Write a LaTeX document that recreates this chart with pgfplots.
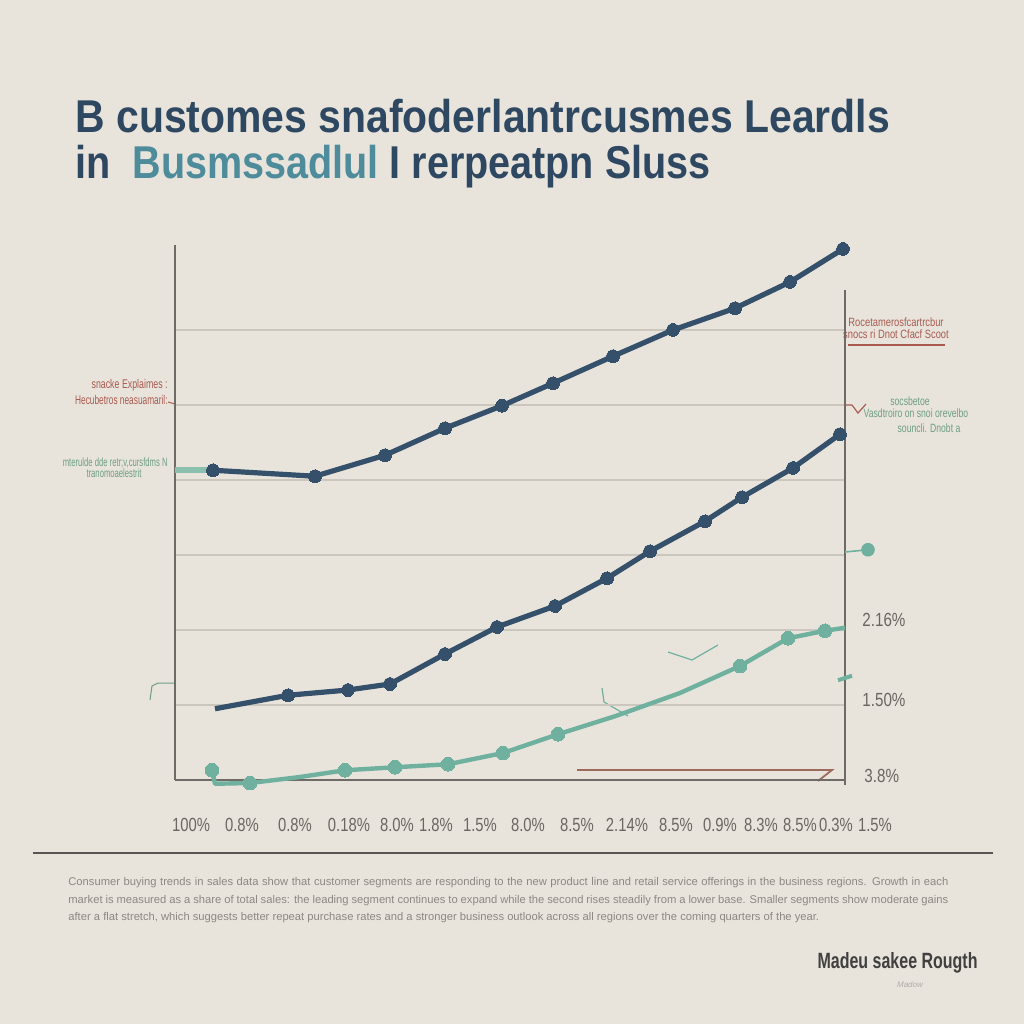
\documentclass[border=0pt]{standalone}
\usepackage{fontspec}
\setmainfont{Liberation Sans}
\usepackage{pgfplots}
\pgfplotsset{compat=1.18}
\definecolor{bg}{HTML}{E8E4DC}
\definecolor{navy}{HTML}{35506A}
\definecolor{tealc}{HTML}{6FB19E}
\definecolor{tealL}{HTML}{8CC0AE}
\definecolor{titlec}{HTML}{2F4861}
\definecolor{titleb}{HTML}{4E8B9B}
\definecolor{axisgray}{HTML}{6E6A66}
\definecolor{gridc}{HTML}{CBC7BF}
\definecolor{lblgray}{HTML}{6A6661}
\definecolor{redc}{HTML}{A85A50}
\definecolor{greenc}{HTML}{6E9E84}
\definecolor{brownc}{HTML}{9E6A5C}
\definecolor{txtgray}{HTML}{8C8882}
\begin{document}
\begin{tikzpicture}
\begin{scope}[x=0.5pt,y=-0.5pt]
\fill[bg] (0,0) rectangle (1024,1024);
% title
\node[anchor=base west, inner sep=0, text=titlec] at (75,132) {\scalebox{0.89}[1]{\fontsize{23}{26}\selectfont\bfseries B customes snafoderlantrcusmes Leardls}};
\node[anchor=base west, inner sep=0, text=titlec] at (75,178) {\scalebox{0.86}[1]{\fontsize{23}{26}\selectfont\bfseries in\ \ \textcolor{titleb}{Busmssadlul} I rerpeatpn Sluss}};
% left annotations
\node[anchor=east, inner sep=0, text=redc] at (168,385) {\scalebox{0.7}[1]{\fontsize{6.3}{7}\selectfont snacke Explaimes :}};
\node[anchor=east, inner sep=0, text=redc] at (168,400) {\scalebox{0.66}[1]{\fontsize{6.3}{7}\selectfont Hecubetros neasuamaril:}};
\draw[redc, line width=0.5pt] (168,402) -- (175,404);
\node[anchor=east, inner sep=0, text=greenc] at (168,463) {\scalebox{0.64}[1]{\fontsize{6}{7}\selectfont mterulde dde retr;v,cursfdms N}};
\node[anchor=east, inner sep=0, text=greenc] at (142,473) {\scalebox{0.64}[1]{\fontsize{6}{7}\selectfont tranomoaelestrit}};
\draw[greenc, line width=0.5pt] (150,700) -- (152,686) -- (158,683) -- (175,683);
% right annotations
\node[inner sep=0, text=redc] at (896,322) {\scalebox{0.78}[1]{\fontsize{6}{7}\selectfont Rocetamerosfcartrcbur}};
\node[inner sep=0, text=redc] at (896,334) {\scalebox{0.78}[1]{\fontsize{6}{7}\selectfont snocs ri Dnot Cfacf Scoot}};
\draw[redc, line width=0.7pt] (848,345) -- (945,345);
\node[inner sep=0, text=greenc] at (910,401) {\scalebox{0.72}[1]{\fontsize{6}{7}\selectfont socsbetoe}};
\node[inner sep=0, text=greenc] at (916,413) {\scalebox{0.72}[1]{\fontsize{6}{7}\selectfont Vasdtroiro on snoi orevelbo}};
\node[inner sep=0, text=greenc] at (929,428) {\scalebox{0.72}[1]{\fontsize{6}{7}\selectfont souncli. Dnobt a}};
\draw[redc, line width=0.6pt] (843,405) -- (852,405) -- (858,413) -- (866,404);
% right value labels
\node[anchor=west, inner sep=0, text=lblgray] at (862,620) {\scalebox{0.8}[1]{\fontsize{9.5}{11}\selectfont 2.16\%}};
\node[anchor=west, inner sep=0, text=lblgray] at (862,700) {\scalebox{0.8}[1]{\fontsize{9.5}{11}\selectfont 1.50\%}};
\node[anchor=west, inner sep=0, text=lblgray] at (864,776) {\scalebox{0.8}[1]{\fontsize{9.5}{11}\selectfont 3.8\%}};
% bottom tick labels
\foreach \xx/\tt in {191/100\%, 242/0.8\%, 295/0.8\%, 349/0.18\%, 397/8.0\%, 436/1.8\%, 480/1.5\%, 528/8.0\%, 577/8.5\%, 627/2.14\%, 676/8.5\%, 720/0.9\%, 761/8.3\%, 800/8.5\%, 836/0.3\%, 875/1.5\%}{
  \node[inner sep=0, text=lblgray] at (\xx,825) {\scalebox{0.78}[1]{\fontsize{9.5}{11}\selectfont \tt}};
}
% rule
\draw[axisgray!80!black, line width=0.8pt] (33,853) -- (993,853);
% paragraph
\node[anchor=north west, inner sep=0, text width=440pt, align=justify, text=txtgray, font=\fontsize{5.6}{8.8}\selectfont] at (68,877) {Consumer buying trends in sales data show that customer segments are responding to the new product line and retail service offerings in the business regions. Growth in each market is measured as a share of total sales: the leading segment continues to expand while the second rises steadily from a lower base. Smaller segments show moderate gains after a flat stretch, which suggests better repeat purchase rates and a stronger business outlook across all regions over the coming quarters of the year.};
% signature
\node[anchor=base east, inner sep=0, text=black!75] at (978,968) {\resizebox{80pt}{8pt}{\bfseries Madeu sakee Rougth}};
\node[inner sep=0, text=txtgray!70, font=\fontsize{4}{5}\selectfont\itshape] at (910,985) {Madow};
% sketch strokes
\draw[tealc, line width=0.6pt] (602,688) -- (604,702) -- (628,716);
\draw[tealc, line width=0.6pt] (668,652) -- (692,660) -- (718,645);
\draw[brownc, line width=0.9pt] (577,770) -- (832,770) -- (818,781);
\end{scope}
\begin{axis}[at={(87.5pt,-390pt)}, anchor=south west, scale only axis,
  width=335pt, height=267.5pt,
  xmin=175, xmax=845, ymin=0, ymax=7.133,
  axis x line=bottom, axis y line=left,
  axis line style={draw=axisgray, line width=0.8pt, -},
  xtick=\empty, ytick={1,2,3,4,5,6}, yticklabels={,,,,,}, major tick length=0pt,
  ymajorgrids, grid style={gridc, line width=0.7pt},
  clip=false]
\draw[axisgray, line width=0.8pt] (axis cs:845,6.53) -- (axis cs:845,-0.07);
% lead-in of top series
\addplot[tealL, line width=3pt, mark=none] coordinates {(175,4.13) (213,4.13)};
% series 1
\addplot[navy, line width=2.6pt, line join=round, mark=*, mark size=3.2pt, mark options={fill=navy, draw=navy, line width=0pt}]
 coordinates {(213,4.13) (315,4.05) (385,4.33) (445,4.69) (502,4.99) (553,5.29) (613,5.65) (673,6.00) (735,6.29) (790,6.64) (843,7.08)};
% series 2
\addplot[navy, line width=2.6pt, line join=round, mark=*, mark size=3.2pt, mark indices={2,3,4,5,6,7,8,9,10,11,12,13}, mark options={fill=navy, draw=navy, line width=0pt}]
 coordinates {(215,0.95) (288,1.13) (348,1.20) (390,1.28) (445,1.68) (497,2.04) (555,2.32) (607,2.69) (650,3.05) (705,3.45) (742,3.77) (793,4.16) (840,4.61)};
% series 3
\addplot[tealc, line width=2.2pt, line join=round, mark=*, mark size=3.4pt, mark indices={1,3,5,6,7,8,9,12,13,14}, mark options={fill=tealc, draw=tealc, line width=0pt}]
 coordinates {(212,0.13) (215,-0.05) (250,-0.04) (300,0.04) (345,0.13) (395,0.17) (448,0.21) (503,0.36) (558,0.61) (615,0.85) (680,1.16) (740,1.52) (788,1.89) (825,1.99) (845,2.03)};
% side marker
\addplot[tealc, line width=0.8pt, mark=*, mark size=3pt, mark indices={2}, mark options={fill=tealc, draw=tealc}]
 coordinates {(845,3.04) (868,3.07)};
\addplot[tealc, line width=2pt, mark=none] coordinates {(838,1.33) (852,1.39)};
\end{axis}
\end{tikzpicture}
\end{document}
